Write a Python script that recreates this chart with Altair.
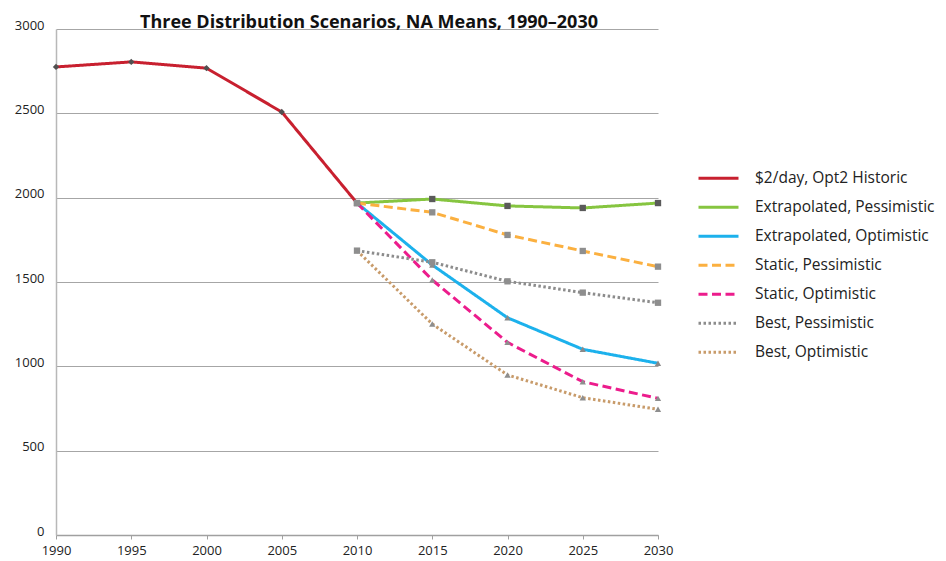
import altair as alt
import pandas as pd

# ---- data ----
series_names = [
    "$2/day, Opt2 Historic",
    "Extrapolated, Pessimistic",
    "Extrapolated, Optimistic",
    "Static, Pessimistic",
    "Static, Optimistic",
    "Best, Pessimistic",
    "Best, Optimistic",
]
years_hist = [1990, 1995, 2000, 2005, 2010]
hist = [2775, 2805, 2768, 2508, 1968]
years_proj = [2010, 2015, 2020, 2025, 2030]
extrap_pess = [1968, 1992, 1951, 1939, 1968]
extrap_opt = [1968, 1601, 1288, 1101, 1018]
static_pess = [1968, 1913, 1779, 1684, 1591]
static_opt = [1968, 1512, 1142, 909, 810]
best_pess = [1686, 1617, 1504, 1437, 1377]
best_opt = [1686, 1251, 949, 814, 745]
x_ticks = [1990, 1995, 2000, 2005, 2010, 2015, 2020, 2025, 2030]
y_ticks = [0, 500, 1000, 1500, 2000, 2500, 3000]
title_text = "Three Distribution Scenarios, NA Means, 1990\u20132030"

rows = []
for y, v in zip(years_hist, hist):
    rows.append({"year": y, "value": v, "series": series_names[0]})
for name, vals in zip(series_names[1:], [extrap_pess, extrap_opt, static_pess,
                                         static_opt, best_pess, best_opt]):
    for y, v in zip(years_proj, vals):
        rows.append({"year": y, "value": v, "series": name})
df = pd.DataFrame(rows)

# ---- styles ----
line_colors = ["#c8202f", "#86c540", "#1cb1ec", "#fbb040", "#ec1c8c", "#8c8c8c", "#c89b6a"]
dashes = [[1, 0], [1, 0], [1, 0], [9, 4.5], [9, 4.5], [2.5, 2.5], [2.5, 2.5]]
widths = [3, 3, 3, 4, 4, 3, 3]
shapes = ["diamond", "square", "triangle-up", "square", "triangle-up", "square", "triangle-up"]
marker_fill = ["#505050", "#5a5a5a", "#8a8a8a", "#8e8e8e", "#8e8e8e", "#8e8e8e", "#8e8e8e"]

FONT = "Open Sans"

x_enc = alt.X("year:Q", scale=alt.Scale(domain=[1990, 2030], nice=False, zero=False),
              axis=alt.Axis(values=x_ticks, format="d", title=None, grid=False,
                            ticks=True, tickSize=4, tickColor="#a0a0a0",
                            domainColor="#a0a0a0", domainWidth=1.5, labelPadding=5,
                            labelFlush=False, labelFontSize=13, labelColor="#222222",
                            labelFont=FONT))
y_enc = alt.Y("value:Q", scale=alt.Scale(domain=[0, 3000], nice=False),
              axis=alt.Axis(values=y_ticks, format="d", title=None, grid=True,
                            gridColor="#a6a6a6", gridWidth=1, ticks=False,
                            domainColor="#b8b8b8", domainWidth=1.5, labelPadding=12,
                            labelFontSize=13, labelColor="#222222", labelFont=FONT,
                            labelBaseline="alphabetic"))

lines = alt.Chart(df).mark_line().encode(
    x=x_enc,
    y=y_enc,
    color=alt.Color("series:N", sort=series_names,
                    scale=alt.Scale(domain=series_names, range=line_colors),
                    legend=alt.Legend(title=None, orient="none", legendX=641, legendY=135,
                                      symbolType="stroke", symbolSize=1600,
                                      symbolStrokeWidth=3.5, labelFontSize=15.5,
                                      labelFont=FONT, labelColor="#222222",
                                      labelLimit=320, labelOffset=15, rowPadding=0,
                                      clipHeight=28.5)),
    strokeDash=alt.StrokeDash("series:N", sort=series_names,
                              scale=alt.Scale(domain=series_names, range=dashes),
                              legend=alt.Legend(title=None)),
    strokeWidth=alt.StrokeWidth("series:N",
                                scale=alt.Scale(domain=series_names, range=widths),
                                legend=None),
    detail="series:N",
)

point_layers = []
for name, shp, fc in zip(series_names, shapes, marker_fill):
    point_layers.append(
        alt.Chart(df).transform_filter(alt.datum.series == name)
        .mark_point(filled=True, size=40, opacity=1, shape=shp, fill=fc, stroke=None)
        .encode(x="year:Q", y="value:Q")
    )

title = alt.Chart(pd.DataFrame({"t": [title_text]})).mark_text(
    font=FONT, fontWeight="bold", fontSize=18, color="#111111",
    align="center", baseline="alphabetic"
).encode(text="t:N", x=alt.value(313), y=alt.value(-1))

chart = alt.layer(lines, *point_layers, title).properties(
    width=602, height=506,
    padding={"left": 48, "top": 21, "right": 280, "bottom": 26},
    autosize=alt.AutoSizeParams(type="none"),
    background="white",
).configure_view(stroke=None)

chart.save("out.html", embed_options={"renderer": "svg", "actions": False})
